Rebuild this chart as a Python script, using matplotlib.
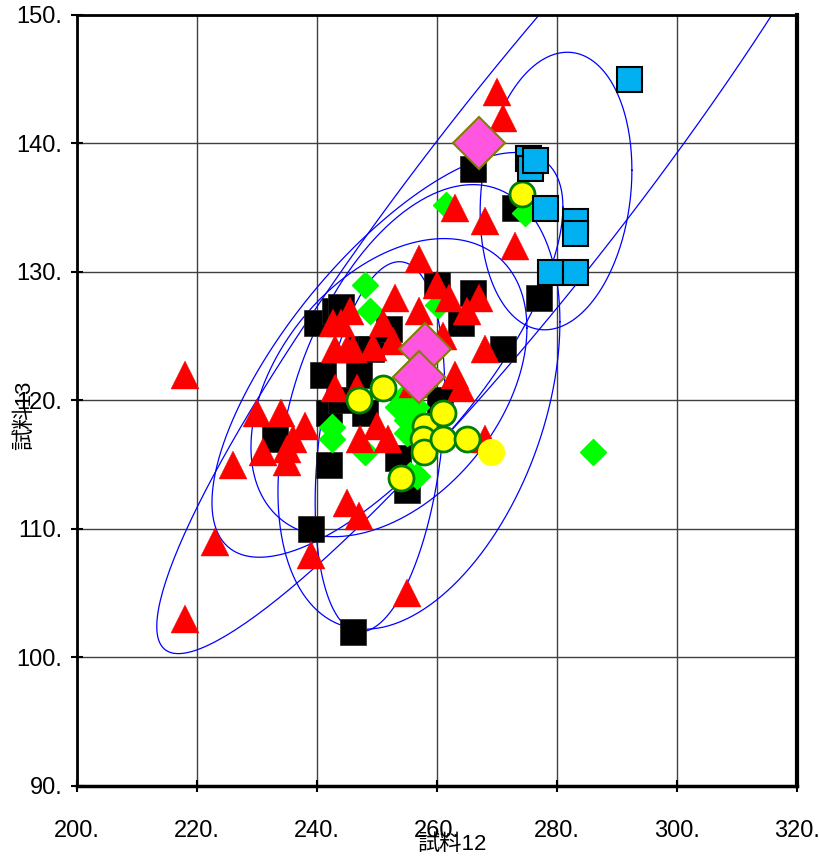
import numpy as np
import matplotlib.pyplot as plt
from matplotlib.ticker import FuncFormatter

# group values (試料12, 試料13)
black_x = [240, 243, 244, 241, 233, 242, 242, 247, 239, 246, 255, 253.5, 260.5,
           260, 266, 264, 271, 249, 252, 244, 266, 273, 277, 247, 248]
black_y = [126, 127, 127.3, 122, 117, 115, 119, 124, 110, 102, 113, 115.5, 120,
           129, 128.4, 126, 124, 124, 125.6, 120, 138, 135, 128, 122, 119]

green_x = [248, 248.8, 261.5, 260.2, 242.5, 242.5, 248, 286, 274.7, 256.7,
           255.5, 253.5, 255, 256.5, 255, 255, 254.3]
green_y = [129, 127, 135.2, 127.4, 117.9, 117, 116, 116, 134.6, 114.1,
           114.2, 119.5, 119.5, 119.5, 118.5, 117.5, 120.2]

red_x = [218, 223, 218, 226, 230, 231, 234, 235, 235, 236, 238, 239, 245, 247,
         242.7, 245.5, 245, 249.3, 243, 246.7, 247.2, 250, 251.8, 263, 268, 260,
         262, 267, 265, 253, 257, 251, 244, 261, 243, 252.7, 256, 268, 270, 271,
         263, 268, 273, 257, 255, 264, 246]
red_y = [122, 109, 103, 115, 119, 116, 119, 116.2, 115.2, 117, 118, 108, 112, 111,
         126, 127, 124, 124.2, 121, 121, 117, 118, 117, 122, 124, 129,
         128, 128, 127, 128, 127, 126, 126, 125, 124, 124.6, 121.3, 117, 144, 142,
         135, 134, 132, 131, 105, 121, 124]

yellow_x = [247, 251, 254, 258, 257.7, 257.8, 261, 261, 265, 274.2]
yellow_y = [120, 121, 114, 118, 117, 116, 119, 117, 117, 136.1]
yellow2_x = [269]
yellow2_y = [116]

blue_x = [292, 275.2, 275.5, 276.3, 278, 283, 283, 278.8, 283]
blue_y = [145, 138.9, 138.1, 138.7, 135, 134, 133, 130, 130]

pink_x = [267, 258, 257]
pink_y = [140, 124, 121.8]

# ellipses: centre, half extent in x and y, correlation
ell_cx = [275.3, 279.85, 251.75, 250.5, 257.0, 252.0]
ell_cy = [136.8, 136.3, 123.55, 116.4, 119.5, 121.0]
ell_rx = [62.0, 12.65, 29.25, 10.8, 23.5, 23.0]
ell_ry = [36.5, 10.8, 15.75, 14.4, 17.3, 11.6]
ell_rho = [0.942, 0.15, 0.73, 0.3, 0.383, 0.4]

fig = plt.figure(figsize=(8.19, 8.56), dpi=100)
ax = fig.add_axes([0.094, 0.0818, 0.879, 0.9007])

t = np.linspace(0, 2 * np.pi, 300)
for cx, cy, rx, ry, r in zip(ell_cx, ell_cy, ell_rx, ell_ry, ell_rho):
    ex = cx + rx * np.cos(t)
    ey = cy + ry * (r * np.cos(t) + np.sqrt(1 - r * r) * np.sin(t))
    ax.plot(ex, ey, color='#0000FF', lw=0.9, zorder=2)

ax.plot(black_x, black_y, 's', ms=18.5, color='black', mec='#222222', mew=0.5, zorder=3)
ax.plot(green_x, green_y, 'D', ms=13, color='#00FF00', mec='#00FF00', zorder=4)
ax.plot(red_x, red_y, '^', ms=20, color='#FF0000', mec='#FF0000', mew=0.3, zorder=5)
ax.plot(yellow_x, yellow_y, 'o', ms=18, color='#FFFF00', mec='#008000', mew=2, zorder=6)
ax.plot(yellow2_x, yellow2_y, 'o', ms=18.5, color='#FFFF00', mec='#FFFF00', zorder=6)
ax.plot(pink_x, pink_y, 'D', ms=26, color='#FF55E0', mec='#808000', mew=1.5, zorder=7)
ax.plot(blue_x, blue_y, 's', ms=18, color='#00B0F0', mec='black', mew=1.5, zorder=8)

ax.set_xlim(200, 320)
ax.set_ylim(90, 150)
ax.set_xticks(range(200, 321, 20))
ax.set_yticks(range(90, 151, 10))
fmt = FuncFormatter(lambda v, p: f"{v:.0f}.")
ax.xaxis.set_major_formatter(fmt)
ax.yaxis.set_major_formatter(fmt)
ax.grid(True, color='#404040', lw=1)
ax.set_axisbelow(True)

fam = ['Liberation Sans Narrow', 'Liberation Sans', 'Noto Sans CJK JP']
ax.tick_params(direction='inout', length=9, width=1.5, labelsize=17, pad=20)
ax.tick_params(axis='y', pad=6)
for lab in ax.get_xticklabels() + ax.get_yticklabels():
    lab.set_family(fam)

for side, w in [('left', 2), ('bottom', 2.5), ('top', 2), ('right', 3)]:
    ax.spines[side].set_linewidth(w)

ax.set_xlabel('試料12', family=fam, fontsize=16)
ax.set_ylabel('試料13', family=fam, fontsize=16)
ax.xaxis.set_label_coords(0.521, -0.062)
ax.yaxis.set_label_coords(-0.058, 0.481)

fig.savefig('out.png', dpi=100)
